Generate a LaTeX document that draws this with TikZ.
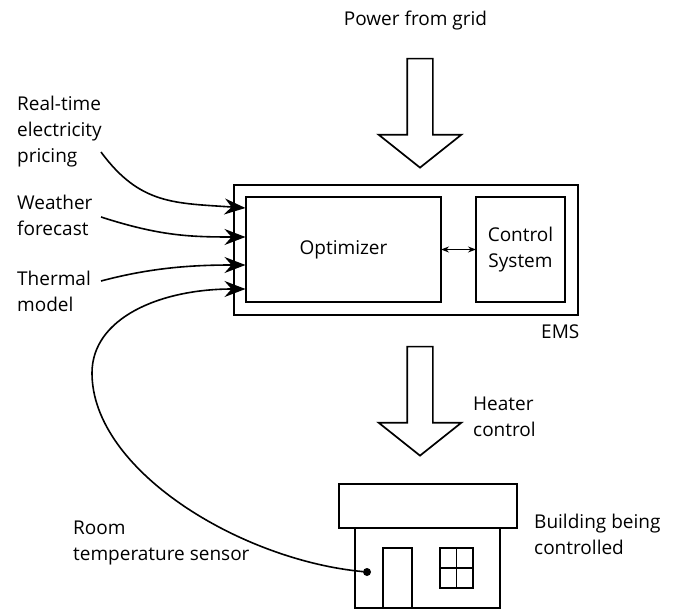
\documentclass[tikz,border=0pt]{standalone}
\usepackage{fontspec}
\setmainfont{Open Sans}
\usetikzlibrary{arrows.meta, positioning, shapes.arrows}

\begin{document}
\begin{tikzpicture}[
    x=1pt, y=-1pt,
    node distance=35pt,
    box/.style={draw, line width=1.7pt, minimum width=#1, inner sep=0pt, outer sep=0pt, align=center},
    label/.style={align=left, anchor=west, inner sep=0pt, font=\fontsize{19}{26}\selectfont},
    bigarrow/.style={draw, line width=1.7pt, single arrow, rotate=-90, minimum height=109pt, inner sep=12pt, outer sep=0pt, single arrow head extend=28.5pt, single arrow tip angle=103},
    feed/.style={line width=1.6pt, -{Stealth[length=21pt, width=16pt, inset=7pt]}}
]
\useasboundingbox (0,0) rectangle (679,609);
% EMS block
\node[box=344pt, minimum height=130pt] (ems) at (406,250) {};
\node[box=195pt, minimum height=105pt, font=\fontsize{19}{26}\selectfont] (optimizer) at (343.5,249.5) {Optimizer};
\node[box=89pt, minimum height=105pt, right=of optimizer, font=\fontsize{19}{26}\selectfont] (control) {Control\\System};
\draw[line width=1.2pt, {Stealth[length=8pt, width=6pt]}-{Stealth[length=8pt, width=6pt]}] (optimizer) -- (control);
\node[label] (emslabel) at (541,332) {EMS};
% power arrows
\node[bigarrow] (grid) at (420,108) {};
\node[bigarrow] (heat) at (420,396) {};
\node[label, anchor=center] (gridlabel) at (415.5,21) {Power from grid};
\node[label] (heatlabel) at (473,416.5) {Heater\\control};
% house
\node[box=145pt, minimum height=80pt] (walls) at (427.5,568) {};
\node[box=178pt, minimum height=44pt] (roof) at (428,506) {};
\node[box=29pt, minimum height=60pt] (door) at (397.5,578) {};
\node[box=33pt, minimum height=40pt] (window) at (456.5,568) {};
\draw[line width=1.7pt] (window.north) -- (window.south);
\draw[line width=1.7pt] (window.west) -- (window.east);
\node[label] (buildlabel) at (534,534) {Building being\\controlled};
% inputs
\node[label] (price) at (17,132) {Real-time\\electricity\\pricing};
\node[label] (weather) at (17,215) {Weather\\forecast};
\node[label] (thermal) at (17,291) {Thermal\\model};
\node[label] (room) at (73,543) {Room\\temperature sensor};
\node[circle, fill=black, inner sep=0pt, minimum size=8pt] (dot) at (367,572) {};
\coordinate (priceout) at (101,152);
\coordinate (weatherout) at (101,217);
\coordinate (thermalout) at (101,281);
\coordinate (pricein) at (245.5,208);
\coordinate (weatherin) at (245.5,237);
\coordinate (thermalin) at (245.5,265);
\coordinate (roomin) at (245.5,289);
\draw[feed] (priceout) .. controls (140,205) and (175,203) .. (pricein);
\draw[feed] (weatherout) .. controls (160,236) and (190,237) .. (weatherin);
\draw[feed] (thermalout) .. controls (150,268) and (190,265) .. (thermalin);
\draw[feed] (dot) .. controls (240,560) and (92,470) .. (92,373) .. controls (92,318) and (160,289) .. (roomin);
\end{tikzpicture}
\end{document}
